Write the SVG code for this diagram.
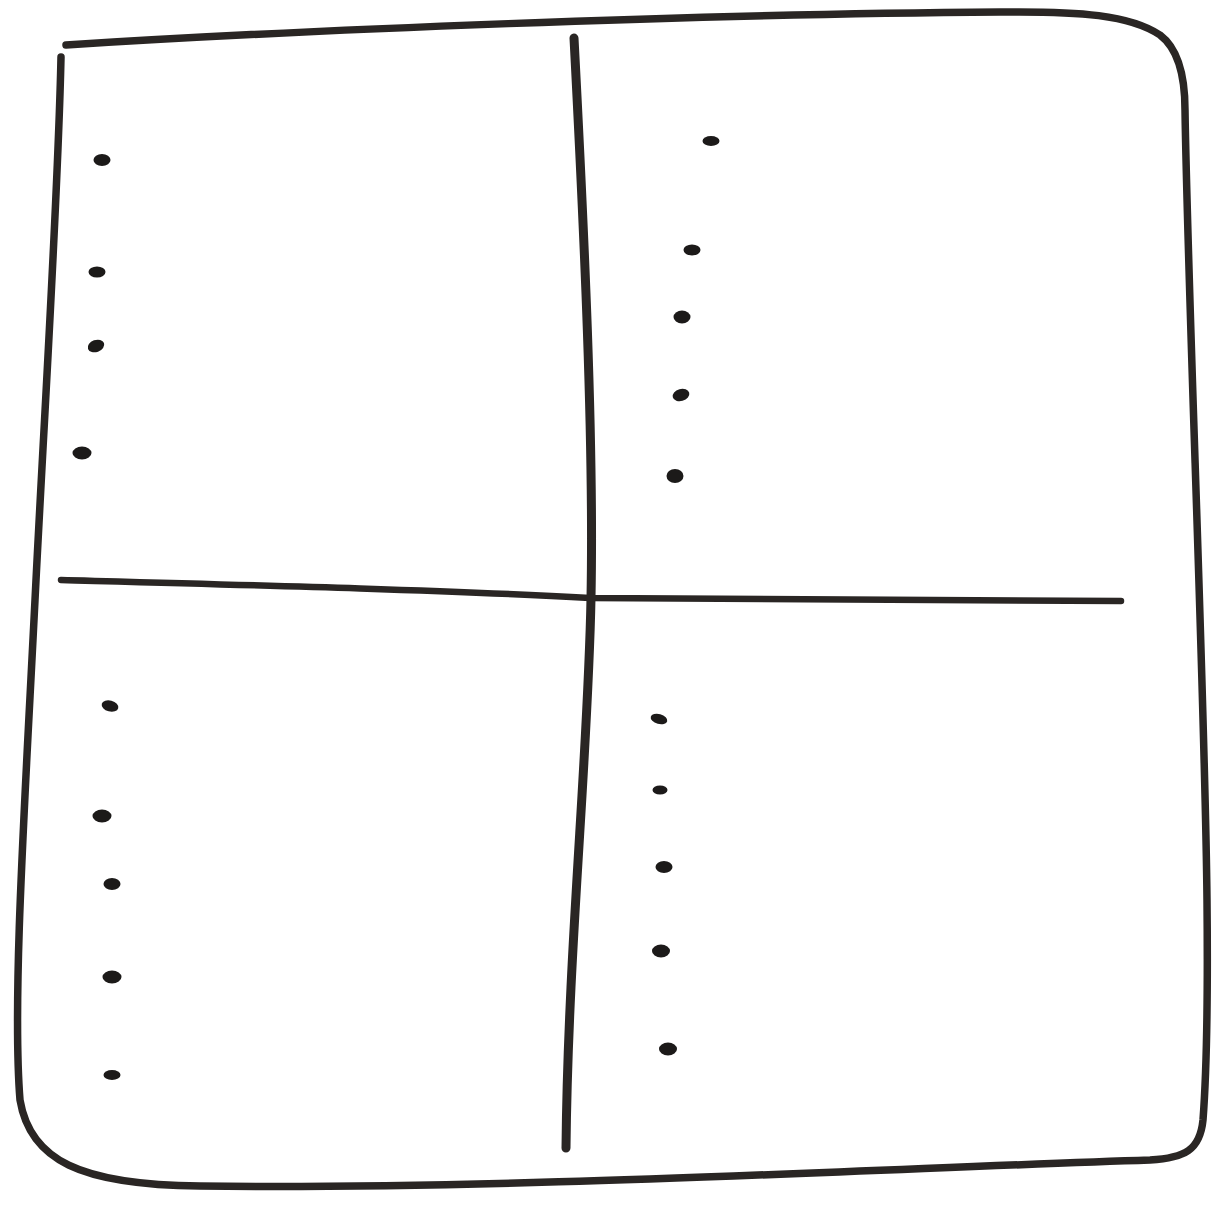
<svg xmlns="http://www.w3.org/2000/svg" width="1213" height="1206" viewBox="0 0 1213 1206">
<style>
.ln{fill:none;stroke:#2a2624;stroke-linecap:round;stroke-linejoin:round}
.dot{fill:#1c1a19}
</style>
<rect width="1213" height="1206" fill="#ffffff"/>
<g id="frame">
<path class="ln" stroke-width="7.5" d="M66,45 C300,30 700,14 1000,12 C1080,11 1130,15 1160,35 C1180,50 1185,80 1185,110 C1188,300 1205,700 1207,900 C1208,1000 1206,1080 1203,1120 C1200,1150 1185,1158 1150,1160 C900,1168 500,1190 200,1186 C80,1185 30,1160 20,1100 C12,1000 25,800 35,600 C45,400 58,200 61,57"/>
</g>
<g id="dividers">
<path class="ln" stroke-width="9" d="M574,38 C584,230 594,440 591,598 C588,760 568,950 566,1148"/>
<path class="ln" stroke-width="6.5" d="M61,580 C250,585 450,590 590,598 C800,600 1000,601 1121,601"/>
</g>
<g id="q1-dots">
<ellipse class="dot" cx="102" cy="160" rx="8.5" ry="6"/>
<ellipse class="dot" cx="97" cy="272" rx="8.5" ry="5.5"/>
<ellipse class="dot" cx="96" cy="346" rx="8.5" ry="6" transform="rotate(-20 96 346)"/>
<ellipse class="dot" cx="82" cy="453" rx="9.5" ry="6.5"/>
</g>
<g id="q2-dots">
<ellipse class="dot" cx="711" cy="141" rx="8.5" ry="5"/>
<ellipse class="dot" cx="692" cy="250" rx="8.5" ry="5.5"/>
<ellipse class="dot" cx="682" cy="317" rx="8.5" ry="6.5"/>
<ellipse class="dot" cx="681" cy="395" rx="8.5" ry="6" transform="rotate(-15 681 395)"/>
<ellipse class="dot" cx="675" cy="476" rx="8.5" ry="7"/>
</g>
<g id="q3-dots">
<ellipse class="dot" cx="110" cy="706" rx="8.5" ry="5.5" transform="rotate(15 110 706)"/>
<ellipse class="dot" cx="102" cy="816" rx="9.5" ry="6.5"/>
<ellipse class="dot" cx="112" cy="884" rx="8.5" ry="6"/>
<ellipse class="dot" cx="112" cy="977" rx="9.5" ry="6.5"/>
<ellipse class="dot" cx="112" cy="1075" rx="8.5" ry="5"/>
</g>
<g id="q4-dots">
<ellipse class="dot" cx="659" cy="719" rx="8.5" ry="5" transform="rotate(15 659 719)"/>
<ellipse class="dot" cx="660" cy="790" rx="7.5" ry="4.5"/>
<ellipse class="dot" cx="664" cy="867" rx="8.5" ry="6"/>
<ellipse class="dot" cx="661" cy="951" rx="9" ry="6.5"/>
<ellipse class="dot" cx="668" cy="1049" rx="9" ry="6.5"/>
</g>
</svg>
